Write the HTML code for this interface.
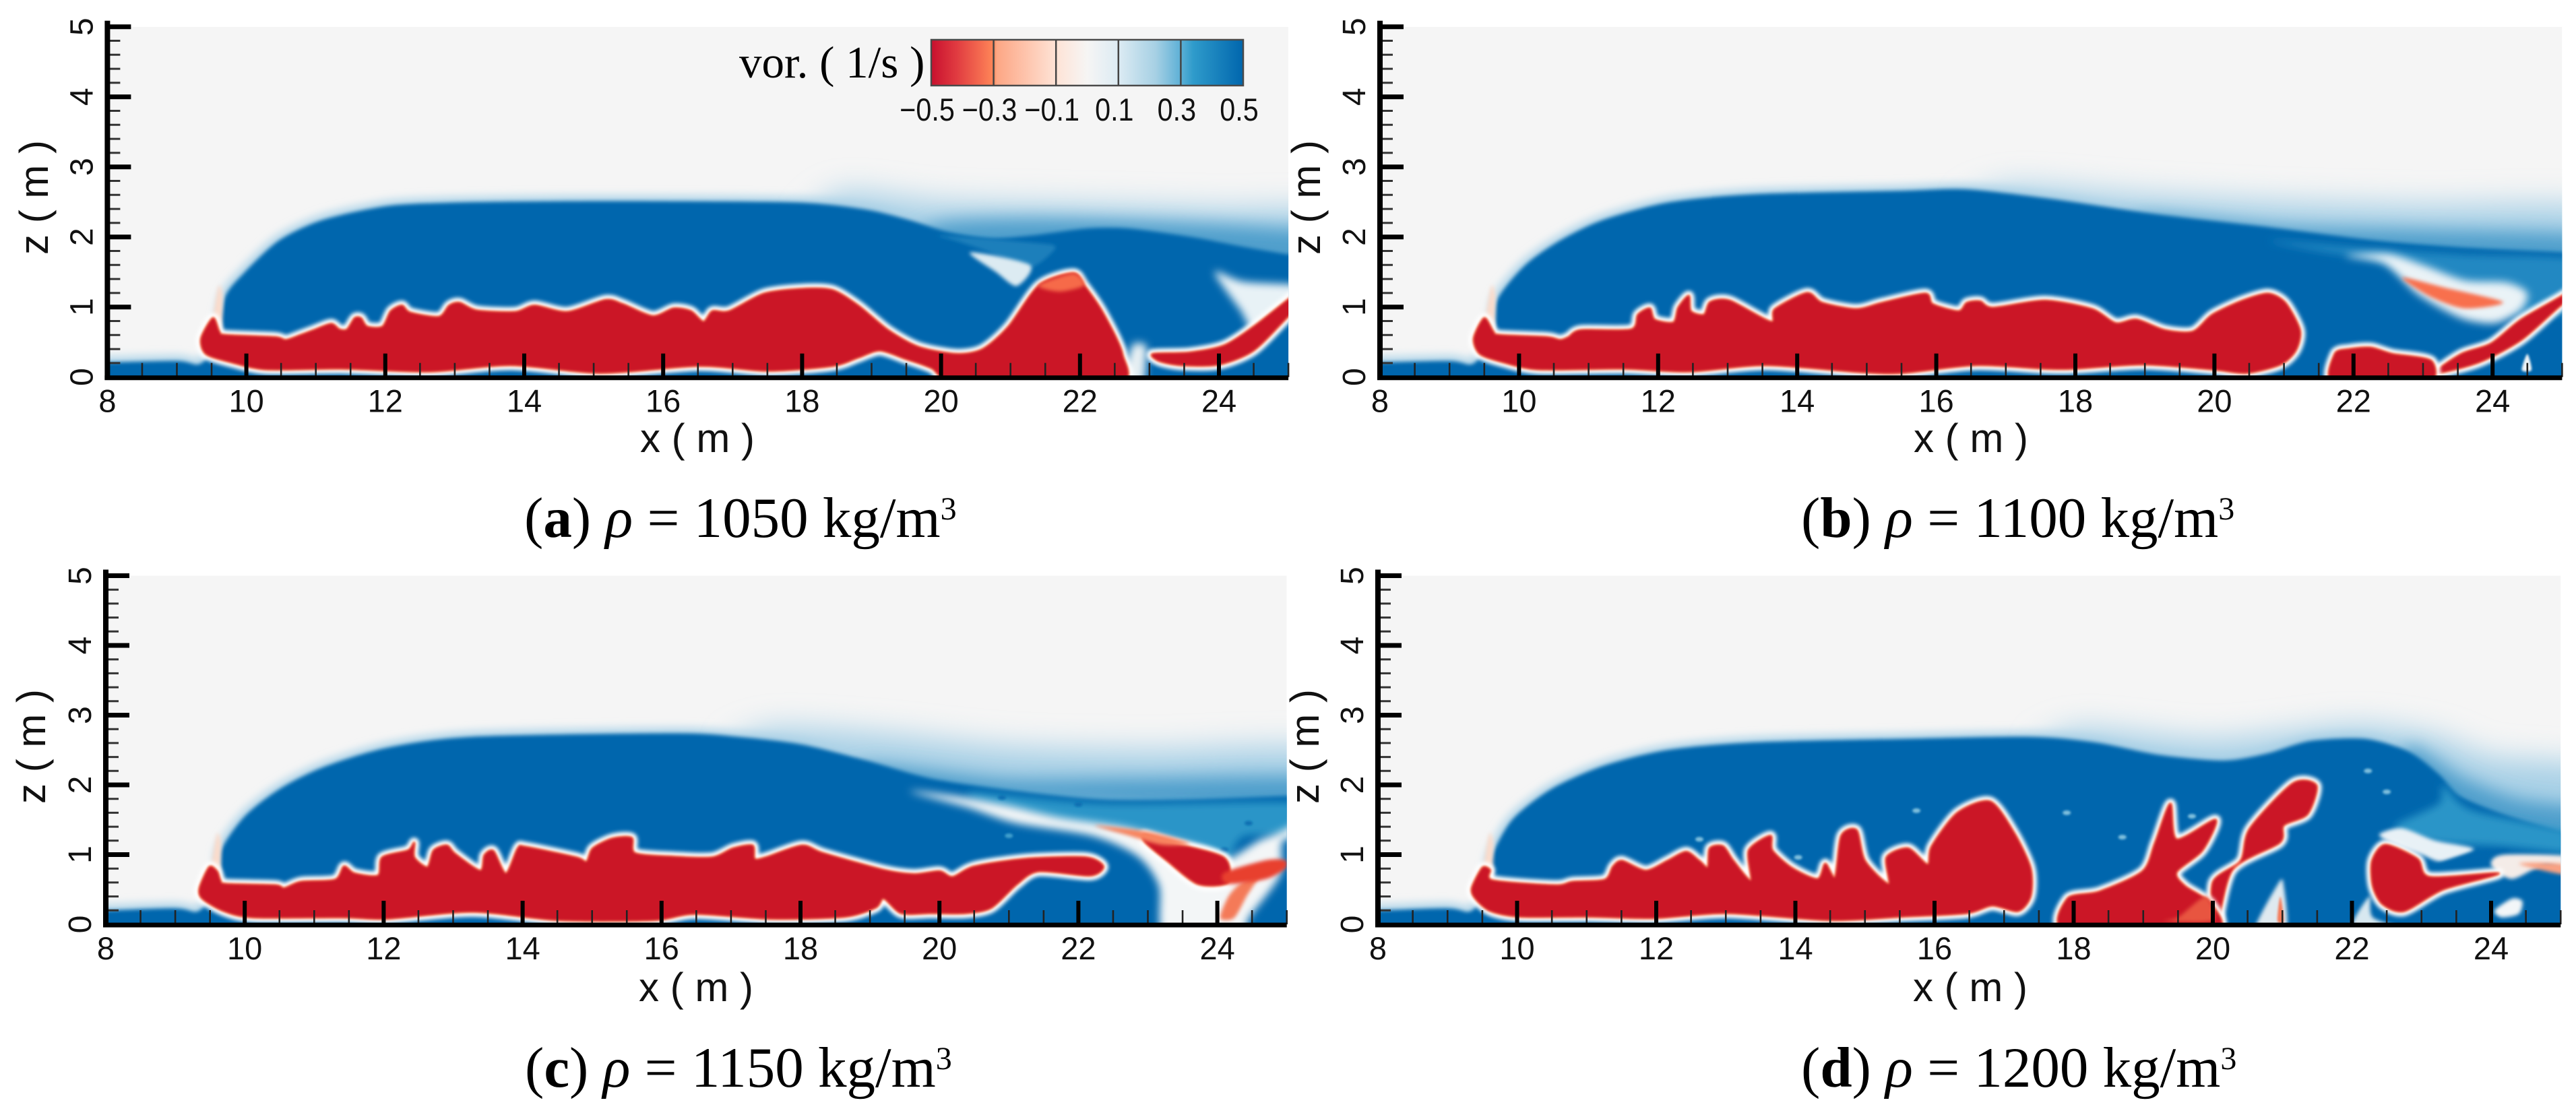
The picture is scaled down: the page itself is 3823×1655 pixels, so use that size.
<!DOCTYPE html>
<html lang="en">
<head>
<meta charset="utf-8">
<title>Vorticity contours for four densities</title>
<style>
html,body{margin:0;padding:0;background:#fff;width:3823px;height:1655px;overflow:hidden}
svg{display:block}
.sans{font-family:"Liberation Sans",sans-serif;fill:#111}
.serif{font-family:"Liberation Serif",serif;fill:#000}
</style>
</head>
<body>
<svg id="fig" xmlns="http://www.w3.org/2000/svg" width="3823" height="1655" viewBox="0 0 3823 1655">
<defs>
<filter id="b1" x="-30%" y="-60%" width="160%" height="220%"><feGaussianBlur stdDeviation="1.5"/></filter>
<filter id="b3" x="-30%" y="-60%" width="160%" height="220%"><feGaussianBlur stdDeviation="3"/></filter>
<filter id="b6" x="-30%" y="-60%" width="160%" height="220%"><feGaussianBlur stdDeviation="6"/></filter>
<filter id="b12" x="-30%" y="-60%" width="160%" height="220%"><feGaussianBlur stdDeviation="13"/></filter>
<filter id="b20" x="-30%" y="-60%" width="160%" height="220%"><feGaussianBlur stdDeviation="22"/></filter>
<linearGradient id="cbGrad" x1="0" x2="1" y1="0" y2="0">
<stop offset="0" stop-color="#c8102e"/>
<stop offset="0.08" stop-color="#e03a40"/>
<stop offset="0.2" stop-color="#ff8658"/>
<stop offset="0.21" stop-color="#fda684"/>
<stop offset="0.4" stop-color="#fee3d6"/>
<stop offset="0.5" stop-color="#f6f5f4"/>
<stop offset="0.6" stop-color="#dcebf3"/>
<stop offset="0.72" stop-color="#a6d0e4"/>
<stop offset="0.8" stop-color="#5cb0d6"/>
<stop offset="0.84" stop-color="#2f9bcb"/>
<stop offset="1" stop-color="#0066ad"/>
</linearGradient>
</defs>

<g id="panel-a"></g>
<g id="panel-b"></g>
<g id="panel-c"></g>
<g id="panel-d"></g>

<g id="colorbar">
<text class="serif" x="1097" y="115" font-size="67">vor. ( 1/s )</text>
<rect x="1382" y="59" width="463" height="68" fill="url(#cbGrad)" stroke="#4a4a4a" stroke-width="2.5"/>
</g>

<text class="serif" x="778" y="797" font-size="85">(<tspan font-weight="bold">a</tspan>) <tspan font-style="italic">ρ</tspan> = 1050 kg/m<tspan font-size="48" dy="-26">3</tspan></text>
<text class="serif" x="2673" y="797" font-size="85">(<tspan font-weight="bold">b</tspan>) <tspan font-style="italic">ρ</tspan> = 1100 kg/m<tspan font-size="48" dy="-26">3</tspan></text>
<text class="serif" x="779" y="1613" font-size="85">(<tspan font-weight="bold">c</tspan>) <tspan font-style="italic">ρ</tspan> = 1150 kg/m<tspan font-size="48" dy="-26">3</tspan></text>
<text class="serif" x="2673" y="1613" font-size="85">(<tspan font-weight="bold">d</tspan>) <tspan font-style="italic">ρ</tspan> = 1200 kg/m<tspan font-size="48" dy="-26">3</tspan></text>
</svg>

<script>
// ---- Axis tick values and colour-bar labels ----
const xTickLabels = [8,10,12,14,16,18,20,22,24];
const zTickLabels = [0,1,2,3,4,5];
const colorbarTicks = [-0.5,-0.3,-0.1,0.1,0.3,0.5];
const colorbarLabels = ['\u22120.5','\u22120.3','\u22120.1','0.1','0.3','0.5'];

// ---- Contours, as [x (m), z (m)] ----
const noseFlare = [[9.52,0.8],[9.6,1.3],[9.66,1.15],[9.63,0.65]];

// Panel (a) rho = 1050
const aBlue = [[7.5,-0.3],[7.5,0.21],[8,0.21],[9,0.23],[9.3,0.18],[9.45,0.3],[9.6,0.65],[9.7,1.16],[9.98,1.5],[10.47,1.95],[11.09,2.24],[12.02,2.44],[12.95,2.49],[14.5,2.51],[16.15,2.51],[18,2.49],[18.93,2.39],[19.55,2.24],[20.1,2.07],[20.7,1.98],[21.3,2.02],[22.1,2.12],[22.7,2.12],[23.6,2],[24.4,1.85],[25,1.75],[25.4,1.7],[25.4,-0.3]];
const aWakeLight = [[18.5,2.62],[20,2.5],[22,2.45],[24,2.4],[25.6,2.35],[25.6,1.5],[18.5,1.8]];
const aWakeMid = [[20,2.2],[22,2.25],[25.6,2.05],[25.6,1.5],[20,1.8]];
const aMedium = [[20,2.02],[21.3,1.92],[21.65,1.85],[21.25,1.55],[20.7,1.78],[20.2,1.95]];
const aPale = [[20.42,1.78],[21.28,1.6],[21.09,1.3],[20.79,1.5]];
const aWedge = [[23.94,1.5],[24.37,1.36],[25.4,1.3],[25.4,1.15],[24.6,0.6],[24.3,0.97]];
const aCross = [[22.75,0.45],[22.95,0.45],[22.95,0.2],[22.9,-0.1],[22.62,-0.1]];
const aRed = [[9.35,0.55],[9.52,0.84],[9.61,0.65],[9.7,0.6],[10.41,0.57],[10.57,0.53],[10.78,0.6],[10.97,0.67],[11.22,0.76],[11.34,0.68],[11.45,0.68],[11.56,0.84],[11.65,0.84],[11.74,0.72],[11.96,0.72],[12.08,0.94],[12.24,1.02],[12.36,0.92],[12.77,0.86],[12.92,1.02],[13.07,1.06],[13.32,0.95],[13.87,0.93],[14.15,1.02],[14.62,0.93],[15.17,1.1],[15.42,1.04],[15.85,0.87],[16.15,0.98],[16.4,0.94],[16.58,0.79],[16.71,0.94],[16.95,0.94],[17.45,1.19],[18,1.26],[18.44,1.24],[18.81,1.02],[19.24,0.67],[19.68,0.43],[20.23,0.33],[20.6,0.4],[20.97,0.72],[21.41,1.31],[21.9,1.48],[22.06,1.31],[22.33,0.92],[22.61,0.33],[22.52,-0.1],[20.3,-0.1],[19.86,0.13],[19.49,0.26],[19.12,0.38],[18.81,0.28],[18.44,0.16],[17.51,0.09],[16.52,0.16],[15.11,0.06],[13.81,0.17],[12.64,0.08],[11.4,0.12],[10.29,0.11],[9.79,0.21],[9.42,0.33]];
const aCrescent = [[23.05,0.33],[23.57,0.35],[24.07,0.45],[24.5,0.72],[25,1.11],[25.4,1.42],[25.4,1.26],[25,0.87],[24.5,0.38],[24,0.18],[23.45,0.17],[23.14,0.23]];
const aPeakGlow = [[21.4,1.31],[21.9,1.48],[22.06,1.31],[21.7,1.22]];

// Panel (b) rho = 1100
const bBlue = [[7.5,-0.3],[7.5,0.21],[8,0.21],[9,0.23],[9.3,0.18],[9.45,0.3],[9.64,0.65],[9.69,1.11],[10.09,1.6],[10.59,1.95],[11.2,2.24],[12.13,2.49],[13.37,2.61],[15.5,2.66],[16.44,2.68],[17.68,2.54],[19.2,2.32],[20.77,2.14],[22.3,1.95],[23.55,1.85],[25,1.78],[25.4,1.75],[25.4,-0.3]];
const bWakeLight = [[17,2.72],[19,2.6],[21,2.5],[23,2.45],[25.6,2.4],[25.6,1.5],[17,2.2]];
const bWakeMid = [[19,2.3],[21,2.15],[23,2.1],[25.6,2],[25.6,1.5],[19,1.9]];
const bMedium = [[20.8,1.95],[22.3,1.83],[23.55,1.75],[25.4,1.65],[25.4,0.95],[24.5,0.9],[24,1],[23,1.3],[22.4,1.65],[21.5,1.8]];
const bArc = [[21.88,1.73],[22.44,1.62],[22.93,1.18],[23.55,0.84],[24.04,0.77],[24.4,0.95],[24.5,1.2],[24.2,1.35],[23.6,1.38],[23,1.6],[22.5,1.76]];
const bLens = [[22.7,1.42],[23.3,1.28],[24.15,1.07],[23.6,0.98],[23.1,1.15]];
const bRed = [[9.35,0.55],[9.5,0.84],[9.63,0.65],[9.72,0.6],[10.4,0.57],[10.59,0.53],[10.71,0.57],[10.89,0.67],[11.61,0.68],[11.71,0.89],[11.88,0.98],[11.95,0.82],[12.22,0.78],[12.29,0.99],[12.44,1.16],[12.47,0.94],[12.66,0.89],[12.75,1.07],[13.03,1.09],[13.62,0.79],[13.68,0.97],[14.14,1.2],[14.36,1.06],[14.85,0.97],[15.22,1.06],[15.84,1.19],[15.95,1.04],[16.32,0.94],[16.44,1.06],[16.63,1.08],[16.82,0.99],[17.56,1.09],[18.24,0.97],[18.58,0.77],[18.88,0.82],[19.29,0.67],[19.69,0.65],[19.97,0.89],[20.4,1.09],[20.77,1.19],[21.02,1.06],[21.23,0.67],[21.17,0.38],[20.95,0.18],[20.46,0.06],[19.97,0.11],[18.98,0.18],[17.99,0.12],[17.56,0.12],[16.57,0.17],[15.52,0.06],[14.91,0.07],[13.55,0.17],[12.44,0.08],[11.51,0.12],[10.28,0.11],[9.78,0.21],[9.44,0.33]];
const bRedSecond = [[21.73,-0.1],[21.73,0.33],[21.94,0.4],[22.25,0.42],[22.56,0.33],[23.12,0.23],[23.05,-0.1]];
const bStrand = [[25.4,1.42],[25.4,1.3],[25,1.04],[24.41,0.53],[23.8,0.21],[23.18,0.06],[23.55,0.33],[23.98,0.48],[24.41,0.82],[25,1.16]];
const bDrop = [[24.42,0.1],[24.5,0.33],[24.56,0.1]];

// Panel (c) rho = 1150
const cBlue = [[7.5,-0.3],[7.5,0.2],[8,0.2],[9,0.23],[9.3,0.18],[9.45,0.3],[9.65,0.63],[9.66,1.06],[10,1.55],[10.5,1.94],[11.12,2.25],[12.04,2.53],[13.28,2.69],[16.18,2.74],[17.1,2.69],[18.02,2.58],[18.95,2.35],[19.88,2.09],[21.12,1.91],[22.36,1.79],[23.6,1.79],[25,1.84],[25.4,1.84],[25.4,-0.3]];
const cWakeLight = [[17.5,2.8],[19,2.75],[21,2.55],[23,2.5],[25.6,2.5],[25.6,1.5],[17.5,2.3]];
const cWakeMid = [[19,2.3],[21,2.1],[23,2.1],[25.6,2.1],[25.6,1.6],[19,1.9]];
const cMedium = [[20.5,1.89],[22.36,1.73],[25.4,1.73],[25.4,1.27],[24.4,1.27],[24.15,0.91],[23.84,0.96],[22.73,1.27],[21.74,1.45],[20.62,1.73]];
const cPale = [[19.57,1.91],[20.3,1.83],[21,1.7],[21.74,1.53],[22.73,1.38],[23.84,1.08],[24.12,0.92],[24.6,1.2],[24.85,1.3],[25.4,1.55],[25.4,1.3],[24.95,1.2],[24.9,0.7],[24.46,0.1],[24.3,-0.2],[23.25,-0.2],[23.16,0.55],[22.85,0.98],[22.2,1.27],[21.1,1.45],[20.4,1.68]];
const cRed = [[9.35,0.52],[9.49,0.82],[9.6,0.76],[9.65,0.63],[9.73,0.58],[10.44,0.56],[10.57,0.52],[10.81,0.61],[11.3,0.64],[11.43,0.83],[11.58,0.73],[11.92,0.7],[11.98,0.96],[12.35,1.06],[12.44,1.17],[12.44,0.96],[12.63,0.82],[12.72,1.06],[12.91,1.13],[13.03,1.01],[13.39,0.77],[13.45,0.99],[13.58,1.05],[13.76,0.73],[13.93,1.09],[14.05,1.11],[14.77,0.96],[14.92,0.9],[15.01,1.09],[15.29,1.23],[15.57,1.24],[15.62,1.02],[16.18,0.97],[16.73,0.96],[17.03,1.09],[17.31,1.13],[17.34,0.94],[17.5,0.96],[18.02,1.13],[18.33,1.02],[19.2,0.78],[19.63,0.72],[20,0.76],[20.19,0.68],[20.5,0.83],[21.24,0.94],[22.11,0.96],[22.36,0.83],[22.17,0.7],[21.43,0.76],[21.12,0.58],[20.75,0.24],[20.38,0.16],[19.88,0.16],[19.45,0.16],[19.2,0.37],[19.08,0.24],[18.64,0.11],[17.59,0.08],[16.48,0.15],[15.88,0.06],[14.52,0.06],[13.28,0.18],[12.04,0.08],[11.43,0.1],[10.13,0.1],[9.7,0.19],[9.39,0.37]];
const cRedBody = [[22.95,1.28],[23.3,1.18],[24.09,0.96],[24.15,0.6],[23.72,0.58],[23.28,0.91],[22.97,1.17]];
const cTail = [[22.24,1.42],[23.04,1.32],[23.6,1.16],[23.2,1.14],[22.7,1.28]];
const cArm = [[24.1,0.74],[24.7,0.92],[24.98,0.92],[24.98,0.8],[24.7,0.65],[24.15,0.58]];
const cOrange = [[24.04,0.09],[24.16,0.4],[24.35,0.6],[24.6,0.7],[24.42,0.4],[24.24,0.09]];
const cSpecks = [[21.0,1.27]];
const cDarkSpots = [[20.9,1.82],[22.0,1.72],[24.45,1.45],[24.1,1.07]];

// Panel (d) rho = 1200
const dBlue = [[7.5,-0.3],[7.5,0.2],[8,0.2],[9,0.23],[9.3,0.18],[9.45,0.3],[9.63,0.65],[9.63,0.96],[9.93,1.5],[10.49,1.94],[11.23,2.27],[12.16,2.5],[13.39,2.61],[15.53,2.66],[17.38,2.69],[18.31,2.61],[19.23,2.43],[20.16,2.35],[20.78,2.45],[21.4,2.63],[22.2,2.66],[22.81,2.48],[23.25,2.15],[23.55,1.84],[24.17,1.58],[25,1.32],[25.4,1.2],[25.4,-0.3]];
const dWakeLight = [[18,2.8],[20,2.65],[22,2.85],[23.2,2.7],[24,2.4],[25.6,2.2],[25.6,1],[18,2.2]];
const dWakeMid = [[22.8,2.55],[23.6,2.1],[24.4,1.8],[25.6,1.6],[25.6,1],[22.8,1.5]];
const dMedium = [[22.63,1.42],[23.25,1.73],[23.31,1.99],[23.74,1.63],[25.4,1.27],[25.4,1.01],[24.17,1.12],[23.25,1.17],[22.81,1.27]];
const dPale = [[22.4,1.3],[22.72,1.38],[23.2,1.2],[23.75,1.08],[23.3,0.9],[23,1],[22.5,1.2]];
const dLens = [[23.19,0.83],[23.68,1.01],[24.23,1.06],[24.17,0.83],[23.49,0.73]];
const dBand = [[24,0.85],[24.2,1],[25.4,0.95],[25.4,0.65],[24.8,0.85],[24.3,0.65]];
const dBandOrange = [[24.4,0.87],[25,0.87],[25.4,0.72],[25,0.72]];
const dGroundPale = [[22,-0.1],[22.25,0.4],[22.3,0.1],[22.8,-0.1]];
const dSpikePale = [[20.6,-0.1],[20.95,0.6],[21.02,0.55],[21.05,-0.1]];
const dSpikeOrange = [[20.93,0.05],[20.97,0.4],[21.02,0.05]];
const dDrop = [[24.05,0.2],[24.3,0.37],[24.45,0.33],[24.4,0.15],[24.15,0.1]];
const dRed = [[9.35,0.52],[9.5,0.81],[9.61,0.78],[9.65,0.63],[10.55,0.56],[10.8,0.61],[11.26,0.64],[11.38,0.83],[11.51,0.91],[11.85,0.77],[12.16,0.91],[12.43,1.04],[12.62,0.91],[12.74,0.82],[12.77,1.09],[12.96,1.12],[13.11,0.91],[13.36,0.63],[13.33,1.06],[13.64,1.27],[13.67,1.06],[13.95,0.81],[14.32,0.65],[14.43,0.87],[14.57,0.68],[14.66,1.27],[14.88,1.35],[15,0.91],[15.34,0.58],[15.31,0.96],[15.62,1.09],[15.9,0.86],[15.96,1.12],[16.33,1.6],[16.8,1.76],[17.14,1.32],[17.38,0.81],[17.38,0.4],[17.2,0.19],[16.83,0.27],[16.46,0.16],[15.53,0.11],[14.5,0.06],[13.02,0.16],[11.97,0.09],[11.04,0.11],[10.05,0.11],[9.62,0.19],[9.4,0.37]];
const dBranch = [[17.91,-0.1],[17.91,0.37],[18.37,0.47],[18.99,0.76],[19.17,1.17],[19.39,1.73],[19.48,1.22],[20.04,1.5],[19.85,1.06],[19.48,0.75],[19.6,0.55],[19.98,0.29],[20,-0.1]];
const dLimb = [[20.04,-0.1],[20,0.6],[20.4,0.91],[20.53,1.37],[21.15,2.02],[21.49,1.99],[21.36,1.58],[21.02,1.42],[20.96,1.17],[20.28,0.78]];
const dRight = [[22.29,0.91],[22.48,1.14],[22.94,0.94],[23.12,0.68],[24.11,0.73],[23.31,0.5],[22.75,0.19],[22.44,0.29],[22.3,0.55]];
const dBranchGlow = [[19.3,0.05],[19.5,0.1],[19.9,0.4],[20,0.05]];
const dSpecks = [[22.23,2.2],[22.5,1.9],[19.7,1.55],[18.7,1.25],[17.9,1.6],[15.74,1.63],[12.62,1.22],[14.04,0.96],[17,0.95]];

// ---- Panel geometry (pixel frame of each plot) ----
const NS = 'http://www.w3.org/2000/svg';
const frameA = {left:159.4, sx:103.1, zero:559.7, sz:104, titleX:1035, titleY:671, zTitleX:71, zTitleY:293};
const frameB = {left:2048, sx:103.2, zero:559.7, sz:104, titleX:2925, titleY:671, zTitleX:1959, zTitleY:293};
const frameC = {left:157, sx:103.1, zero:1372, sz:103.5, titleX:1033, titleY:1486, zTitleX:67, zTitleY:1108};
const frameD = {left:2045, sx:103.25, zero:1372, sz:103.5, titleX:2924, titleY:1486, zTitleX:1957, zTitleY:1108};

function xAt(f, x){ return f.left + (x - 8) * f.sx; }
function zAt(f, z){ return f.zero - z * f.sz; }

// Closed smooth contour through the data points (Catmull-Rom to Bezier).
function pathOf(f, pts){
  const p = pts.map(function(q){ return [xAt(f, q[0]), zAt(f, q[1])]; });
  const n = p.length;
  const k = 7.5;
  let d = 'M' + p[0][0].toFixed(1) + ' ' + p[0][1].toFixed(1);
  for (let i = 0; i < n; i++) {
    const a = p[(i - 1 + n) % n], b = p[i], c = p[(i + 1) % n], e = p[(i + 2) % n];
    const c1x = b[0] + (c[0] - a[0]) / k, c1y = b[1] + (c[1] - a[1]) / k;
    const c2x = c[0] - (e[0] - b[0]) / k, c2y = c[1] - (e[1] - b[1]) / k;
    d += 'C' + c1x.toFixed(1) + ' ' + c1y.toFixed(1) + ' ' + c2x.toFixed(1) + ' ' + c2y.toFixed(1) + ' ' + c[0].toFixed(1) + ' ' + c[1].toFixed(1);
  }
  return d + 'Z';
}

function region(g, f, pts, color, blur, name, strokeWidth, strokeColor){
  const el = document.createElementNS(NS, 'path');
  
  
  el.setAttribute('d', pathOf(f, pts));
  el.setAttribute('fill', color);
  if (strokeWidth) {
    el.setAttribute('stroke', strokeColor);
    el.setAttribute('stroke-width', strokeWidth);
    el.setAttribute('stroke-linejoin', 'round');
  }
  if (blur) el.setAttribute('filter', 'url(#' + blur + ')');
  g.appendChild(el);
  return el;
}

function blueLobe(g, f, pts, wakeLight, wakeMid){
  region(g, f, pts, '#b6d8ea', 'b6', 'blue-lobe-halo', 18, '#b6d8ea');
  region(g, f, wakeLight, '#a8d0e6', 'b20', 'wake-fade-light');
  region(g, f, wakeMid, '#4f9fcc', 'b12', 'wake-fade-mid');
  region(g, f, pts, '#0066ad', 'b3', 'blue-lobe');
}

function redCurrent(g, f, pts, name){
  region(g, f, pts, '#ffffff', 'b3', name + '-white-rim', 15, '#ffffff');
  region(g, f, pts, '#f8855f', 'b1', name + '-orange-rim', 4, '#f8855f');
  region(g, f, pts, '#cb1225', 'b1', name);
}

function speck(g, f, p, color, name){
  const el = document.createElementNS(NS, 'ellipse');
  
  
  el.setAttribute('cx', xAt(f, p[0]));
  el.setAttribute('cy', zAt(f, p[1]));
  el.setAttribute('rx', 6);
  el.setAttribute('ry', 3.5);
  el.setAttribute('fill', color);
  el.setAttribute('filter', 'url(#b1)');
  g.appendChild(el);
}

function line(g, x1, y1, x2, y2, w, color, name){
  const el = document.createElementNS(NS, 'line');
  
  
  el.setAttribute('x1', x1);
  el.setAttribute('y1', y1);
  el.setAttribute('x2', x2);
  el.setAttribute('y2', y2);
  el.setAttribute('stroke', color);
  el.setAttribute('stroke-width', w);
  g.appendChild(el);
}

function label(g, x, y, str, size, rotate, name, squeeze){
  const el = document.createElementNS(NS, 'text');
  
  
  el.setAttribute('class', 'sans');
  el.setAttribute('font-size', size);
  el.setAttribute('text-anchor', 'middle');
  if (squeeze) {
    el.setAttribute('transform', 'translate(' + x + ' ' + y + ') scale(' + squeeze + ' 1)');
  } else {
    el.setAttribute('x', x);
    el.setAttribute('y', y);
    if (rotate) el.setAttribute('transform', 'rotate(-90 ' + x + ' ' + y + ')');
  }
  el.textContent = str;
  g.appendChild(el);
}

function startField(id, f){
  const root = document.getElementById(id);
  const clip = document.createElementNS(NS, 'clipPath');
  clip.setAttribute('id', id + '-clip');
  const rect = document.createElementNS(NS, 'rect');
  rect.setAttribute('x', xAt(f, 8));
  rect.setAttribute('y', zAt(f, 5));
  rect.setAttribute('width', xAt(f, 25) - xAt(f, 8));
  rect.setAttribute('height', zAt(f, 0) - zAt(f, 5));
  clip.appendChild(rect);
  root.appendChild(clip);
  const g = document.createElementNS(NS, 'g');
  
  
  g.setAttribute('clip-path', 'url(#' + id + '-clip)');
  root.appendChild(g);
  const bg = rect.cloneNode();
  bg.setAttribute('fill', '#f5f5f5');
  
  
  g.appendChild(bg);
  return g;
}

function drawAxes(id, f){
  const root = document.getElementById(id);
  const g = document.createElementNS(NS, 'g');
  
  
  root.appendChild(g);
  const y0 = zAt(f, 0), x0 = xAt(f, 8);
  for (let x = 8.5; x <= 25; x += 0.5) {
    if (x % 2 !== 0) line(g, xAt(f, x), y0, xAt(f, x), y0 - 21, 2.6, '#222', 'x-minor-tick');
  }
  for (let z = 0; z < 5; z += 0.2) {
    if (Math.abs(z - Math.round(z)) > 0.01) line(g, x0, zAt(f, z), x0 + 19, zAt(f, z), 3, '#333', 'z-minor-tick');
  }
  xTickLabels.forEach(function(v){
    if (v > 8) line(g, xAt(f, v), y0, xAt(f, v), y0 - 35, 6, '#000', 'x-major-tick');
    label(g, xAt(f, v), y0 + 52, String(v), 47, false, 'x-tick-label');
  });
  zTickLabels.forEach(function(v){
    if (v > 0) line(g, x0, zAt(f, v), x0 + 35, zAt(f, v), 7, '#000', 'z-major-tick');
    label(g, x0 - 22, zAt(f, v), String(v), 48, true, 'z-tick-label');
  });
  line(g, x0 - 4, y0 + 1, xAt(f, 25), y0 + 1, 7, '#000', 'x-axis-line');
  line(g, x0, zAt(f, 5) - 9, x0, y0 + 4, 8, '#000', 'z-axis-line');
  label(g, f.titleX, f.titleY, 'x ( m )', 60, false, 'x-axis-title');
  label(g, f.zTitleX, f.zTitleY, 'z ( m )', 60, true, 'z-axis-title');
}

// Panel (a)
const ga = startField('panel-a', frameA);
blueLobe(ga, frameA, aBlue, aWakeLight, aWakeMid);
region(ga, frameA, noseFlare, '#fadccc', 'b3', 'nose-flare');
region(ga, frameA, aMedium, '#1c7fbb', 'b3', 'shear-layer');
region(ga, frameA, aPale, '#dcebf2', 'b3', 'pale-patch');
region(ga, frameA, aWedge, '#e8f2f6', 'b6', 'pale-wedge');
region(ga, frameA, aCross, '#e6eff3', 'b6', 'pale-gap');
redCurrent(ga, frameA, aCrescent, 'red-crescent');
redCurrent(ga, frameA, aRed, 'red-current');
region(ga, frameA, aPeakGlow, '#f66b4a', 'b3', 'peak-glow');
drawAxes('panel-a', frameA);

// Panel (b)
const gb = startField('panel-b', frameB);
blueLobe(gb, frameB, bBlue, bWakeLight, bWakeMid);
region(gb, frameB, noseFlare, '#fadccc', 'b3', 'nose-flare');
region(gb, frameB, bMedium, '#2288c2', 'b6', 'shear-layer');
region(gb, frameB, bArc, '#eaf3f7', 'b6', 'pale-arc');
region(gb, frameB, bLens, '#f8704e', 'b3', 'orange-lens');
redCurrent(gb, frameB, bStrand, 'red-strand');
redCurrent(gb, frameB, bRedSecond, 'red-second-lobe');
redCurrent(gb, frameB, bRed, 'red-current');
region(gb, frameB, bDrop, '#f0f5f8', 'b1', 'pale-drop');
drawAxes('panel-b', frameB);

// Panel (c)
const gc = startField('panel-c', frameC);
blueLobe(gc, frameC, cBlue, cWakeLight, cWakeMid);
region(gc, frameC, noseFlare, '#fadccc', 'b3', 'nose-flare');
region(gc, frameC, cMedium, '#2b95c8', 'b6', 'shear-layer');
region(gc, frameC, cPale, '#f3f6f7', 'b6', 'pale-streak');
cDarkSpots.forEach(function(p){ speck(gc, frameC, p, '#0a6fb2', 'dark-vortex-spot'); });
cSpecks.forEach(function(p){ speck(gc, frameC, p, '#3f9fcc', 'vortex-speck'); });
redCurrent(gc, frameC, cRedBody, 'red-detached-body');
region(gc, frameC, cTail, '#f8845f', 'b3', 'orange-tail');
region(gc, frameC, cOrange, '#f47a58', 'b3', 'orange-patch');
region(gc, frameC, cArm, '#e8412f', 'b3', 'red-arm');
redCurrent(gc, frameC, cRed, 'red-current');
drawAxes('panel-c', frameC);

// Panel (d)
const gd = startField('panel-d', frameD);
blueLobe(gd, frameD, dBlue, dWakeLight, dWakeMid);
region(gd, frameD, noseFlare, '#fadccc', 'b3', 'nose-flare');
region(gd, frameD, dMedium, '#2b95c8', 'b6', 'shear-layer');
region(gd, frameD, dPale, '#e8f1f6', 'b3', 'pale-patch');
region(gd, frameD, dLens, '#0066ad', 'b3', 'dark-lens');
region(gd, frameD, dBand, '#f4ecE8', 'b3', 'pale-band');
region(gd, frameD, dBandOrange, '#f9a283', 'b3', 'orange-band');
region(gd, frameD, dGroundPale, '#d8e8f0', 'b3', 'pale-ground-patch');
region(gd, frameD, dSpikePale, '#dfeaf0', 'b3', 'pale-spike');
region(gd, frameD, dSpikeOrange, '#f47a58', 'b1', 'orange-spike');
region(gd, frameD, dDrop, '#f2f6f8', 'b3', 'pale-drop');
dSpecks.forEach(function(p){ speck(gd, frameD, p, '#7fc0de', 'vortex-speck'); });
redCurrent(gd, frameD, dRight, 'red-right-lobe');
redCurrent(gd, frameD, dLimb, 'red-limb');
redCurrent(gd, frameD, dBranch, 'red-branch');
redCurrent(gd, frameD, dRed, 'red-current');
region(gd, frameD, dBranchGlow, '#e8553f', 'b3', 'branch-glow');
drawAxes('panel-d', frameD);

// Colour bar separators and labels, from its value arrays
const cbg = document.getElementById('colorbar');
function cbX(v){ return 1382 + (v + 0.5) * 463; }
colorbarTicks.forEach(function(v, i){
  if (i > 0 && i < colorbarTicks.length - 1) line(cbg, cbX(v), 59, cbX(v), 127, 2.5, '#444', 'colorbar-separator');
  label(cbg, cbX(v) - 6, 179, colorbarLabels[i], 47, false, 'colorbar-tick-label', 0.88);
});
</script>
</body>
</html>
